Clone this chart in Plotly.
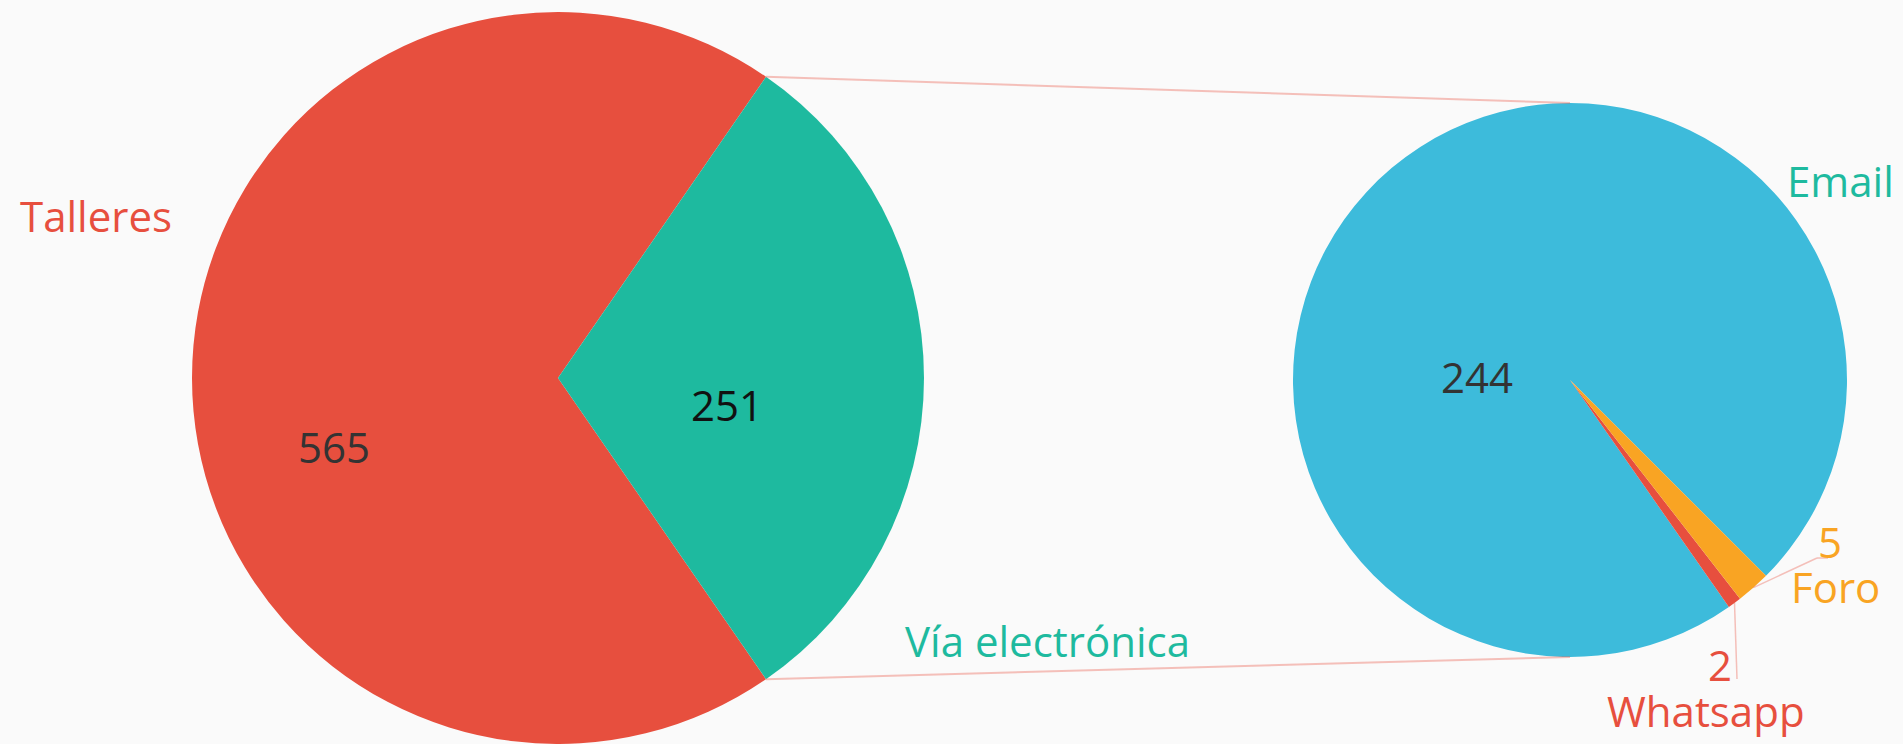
import math
import plotly.graph_objects as go

# ---- data ----
main_labels = ["Talleres", "Vía electrónica"]
main_values = [565, 251]
sub_labels = ["Email", "Whatsapp", "Foro"]
sub_values = [244, 2, 5]

# ---- colours ----
main_colors = ["#e74f3e", "#1eba9f"]
sub_colors = ["#3dbbdb", "#e74f3e", "#f9a423"]
bg = "#fafafa"
link_color = "rgba(236,110,96,0.42)"

W, H = 1903, 744
FONT = "Open Sans"
FS = 42

# pie geometry (pixels)
L_cx, L_cy, L_r = 558, 378, 366
R_cx, R_cy, R_r = 1570, 380, 277


def dom(cx, cy, r):
    return dict(x=[(cx - r) / W, (cx + r) / W],
                y=[1 - min(cy + r, H) / H, 1 - (cy - r) / H])


main_total = sum(main_values)
a_via = main_values[1] / main_total * 360.0
rot_left = -270 + a_via / 2          # centre the "Vía electrónica" slice at 3 o'clock

sub_total = sum(sub_values)
rot_right = 145.0                     # boundary Email / Whatsapp (deg clockwise from 12 o'clock)

fig = go.Figure()
fig.add_trace(go.Pie(
    labels=main_labels, values=main_values, sort=False, direction="clockwise",
    rotation=rot_left, domain=dom(L_cx, L_cy, L_r), textinfo="none",
    marker=dict(colors=main_colors, line=dict(width=0)), hoverinfo="label+value",
    showlegend=False))
fig.add_trace(go.Pie(
    labels=sub_labels, values=sub_values, sort=False, direction="counterclockwise",
    rotation=rot_right, domain=dom(R_cx, R_cy, R_r), textinfo="none",
    marker=dict(colors=sub_colors, line=dict(width=0)), hoverinfo="label+value",
    showlegend=False))


def pt(cx, cy, r, ang):
    a = math.radians(ang)
    return cx + r * math.sin(a), cy - r * math.cos(a)


def px(x, y):
    return x / W, 1 - y / H


shapes = []


def seg(x0, y0, x1, y1, color, width=2):
    a0 = px(x0, y0)
    a1 = px(x1, y1)
    shapes.append(dict(type="line", xref="paper", yref="paper", x0=a0[0], y0=a0[1],
                       x1=a1[0], y1=a1[1], line=dict(color=color, width=width)))


# connectors between the two pies
top_l = pt(L_cx, L_cy, L_r, 90 - a_via / 2)
bot_l = pt(L_cx, L_cy, L_r, 90 + a_via / 2)
seg(*top_l, R_cx, R_cy - R_r, link_color)
seg(*bot_l, R_cx, R_cy + R_r, link_color)

# leader lines for the small slices
a_w = sub_values[1] / sub_total * 360
a_f = sub_values[2] / sub_total * 360
mid_w = rot_right - a_w / 2
mid_f = rot_right - a_w - a_f / 2
fx, fy = pt(R_cx, R_cy, R_r, mid_f)
seg(fx, fy, 1817, 558, link_color, 1.5)
seg(1817, 558, 1828, 558, link_color, 1.5)
wx, wy = pt(R_cx, R_cy, R_r, mid_w)
seg(wx, wy, 1737, 679, link_color, 1.5)

annotations = []


def txt(s, x, y, color):
    p = px(x, y)
    annotations.append(dict(text=s, x=p[0], y=p[1], xref="paper", yref="paper",
                            xanchor="center", yanchor="middle", showarrow=False,
                            font=dict(family=FONT, size=FS, color=color)))


txt(main_labels[0], 96, 215, main_colors[0])
txt(str(main_values[0]), 334, 446, "#333333")
txt(str(main_values[1]), 727, 404, "#111111")
txt(main_labels[1], 1047, 640, main_colors[1])
txt(sub_labels[0], 1840, 180, main_colors[1])
txt(str(sub_values[0]), 1477, 376, "#333333")
txt(str(sub_values[2]), 1830, 541, sub_colors[2])
txt(sub_labels[2], 1835, 586, sub_colors[2])
txt(str(sub_values[1]), 1720, 664, sub_colors[1])
txt(sub_labels[1], 1706, 710, sub_colors[1])

fig.update_layout(width=W, height=H, margin=dict(l=0, r=0, t=0, b=0),
                  paper_bgcolor=bg, plot_bgcolor=bg, shapes=shapes,
                  annotations=annotations, font=dict(family=FONT))
fig.write_html("out.html", config={"displayModeBar": False},
               post_script="document.body.style.margin='0';"
                           "document.body.style.overflow='hidden';"
                           "document.body.style.background='" + bg + "';")
